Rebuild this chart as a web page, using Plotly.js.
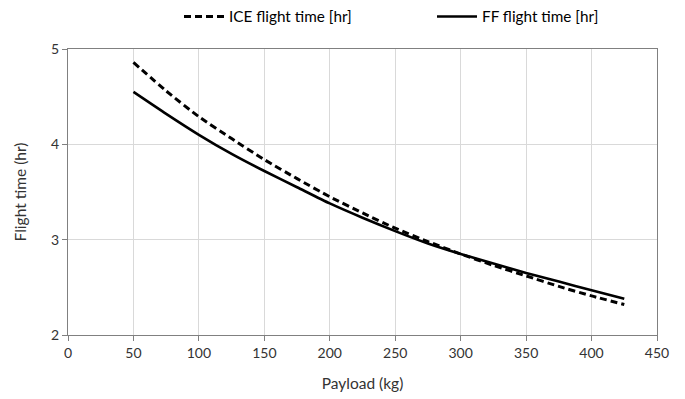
<!DOCTYPE html>
<html>
<head>
<meta charset="utf-8">
<script src="https://cdn.plot.ly/plotly-3.0.1.min.js"></script>
<style>
  html, body { margin: 0; padding: 0; background: #fff; }
  #chart { width: 685px; height: 399px; }
</style>
</head>
<body>
<div id="chart"></div>
<script>
// Payload (kg) sampled every 25 kg
const payload = [50, 75, 100, 125, 150, 175, 200, 225, 250, 275, 300, 325, 350, 375, 400, 425];

// Flight time (hr) for each propulsion option
const iceFlightTime = [4.86, 4.56, 4.29, 4.06, 3.84, 3.64, 3.45, 3.28, 3.12, 2.98, 2.85, 2.73, 2.62, 2.51, 2.41, 2.32];
const ffFlightTime  = [4.55, 4.32, 4.10, 3.90, 3.72, 3.55, 3.38, 3.23, 3.09, 2.96, 2.85, 2.75, 2.65, 2.56, 2.47, 2.38];

const xTicks = [0, 50, 100, 150, 200, 250, 300, 350, 400, 450];
const yTicks = [2, 3, 4, 5];

const font = "Lato, 'Open Sans', sans-serif";
const textColor = "#333333";

const traces = [
  {
    x: payload, y: iceFlightTime,
    name: "ICE flight time [hr]",
    mode: "lines",
    line: { color: "#000", width: 3, dash: "7px,4px", shape: "spline", smoothing: 0.6 }
  },
  {
    x: payload, y: ffFlightTime,
    name: "FF flight time [hr]",
    mode: "lines",
    line: { color: "#000", width: 2.6, shape: "spline", smoothing: 0.6 }
  }
];

const layout = {
  width: 685, height: 399,
  margin: { l: 67.5, r: 28, t: 48.5, b: 64 },
  paper_bgcolor: "#fff", plot_bgcolor: "#fff",
  font: { family: font, size: 14, color: textColor },
  showlegend: true,
  legend: {
    orientation: "h",
    x: 0.222, xanchor: "left",
    y: 1.0, yref: "container", yanchor: "top",
    font: { family: font, size: 15.3, color: "#000" },
    entrywidth: 198, entrywidthmode: "pixels",
    itemwidth: 40, tracegroupgap: 0
  },
  xaxis: {
    range: [0, 450], tickvals: xTicks, ticktext: xTicks.map(String),
    showgrid: true, gridcolor: "#d9d9d9", gridwidth: 1,
    showline: true, linecolor: "#808080", linewidth: 1, mirror: true,
    ticks: "outside", ticklen: 5, tickcolor: "#808080",
    zeroline: false,
    tickfont: { family: font, size: 14, color: textColor },
    title: { text: "Payload (kg)", font: { family: font, size: 15.5, color: textColor }, standoff: 18 }
  },
  yaxis: {
    range: [2, 5], tickvals: yTicks, ticktext: yTicks.map(String),
    showgrid: true, gridcolor: "#d9d9d9", gridwidth: 1,
    showline: true, linecolor: "#808080", linewidth: 1, mirror: true,
    ticks: "outside", ticklen: 5, tickcolor: "#808080",
    zeroline: false,
    tickfont: { family: font, size: 14, color: textColor },
    title: { text: "Flight time (hr)", font: { family: font, size: 15.5, color: textColor }, standoff: 20 }
  }
};

Plotly.newPlot("chart", traces, layout, { displayModeBar: false, staticPlot: true });
</script>
</body>
</html>
